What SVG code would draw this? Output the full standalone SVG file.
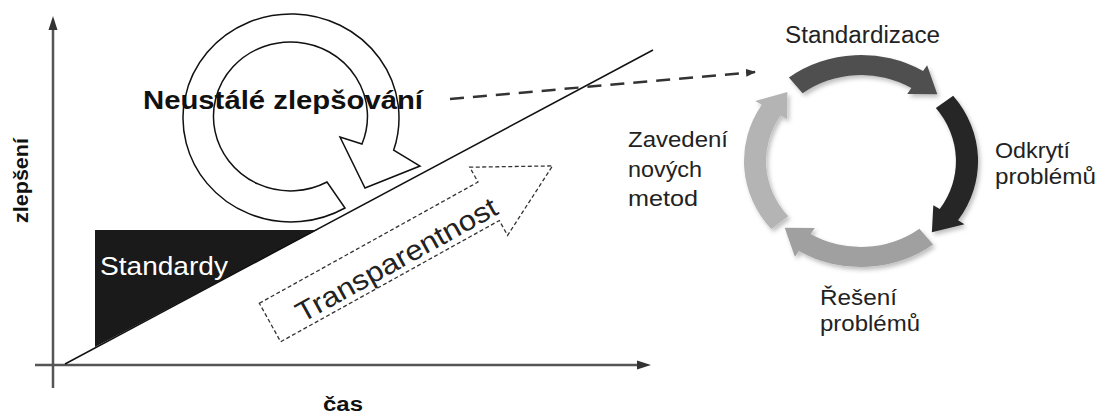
<svg xmlns="http://www.w3.org/2000/svg" width="1105" height="414" viewBox="0 0 1105 414">
<defs>
<style>
.ax{stroke:#555;stroke-width:2.5;fill:none}
.ln{stroke:#111;stroke-width:1.5;fill:none}
.q{stroke:#111;stroke-width:1.5;fill:none}
.tb{font-family:"Liberation Sans",Arial,sans-serif;font-weight:bold;fill:#111}
.t{font-family:"Liberation Sans",Arial,sans-serif;fill:#222}
.dash{stroke:#333;stroke-width:1.3;stroke-dasharray:4 2.5;fill:#fff}
</style>
<filter id="sh" x="-20%" y="-20%" width="140%" height="140%">
<feDropShadow dx="2" dy="3" stdDeviation="2" flood-color="#000" flood-opacity="0.25"/>
</filter>
<marker id="ah" markerWidth="10" markerHeight="10" refX="9" refY="5" orient="auto" markerUnits="userSpaceOnUse">
<path d="M0,1 L10,5 L0,9 Z" fill="#333"/>
</marker>
</defs>
<rect width="1105" height="414" fill="#fff"/>

<g id="axes">
<line class="ax" x1="53" y1="28" x2="53" y2="388"/>
<path d="M53,16 L57.5,30 L48.5,30 Z" fill="#333"/>
<line class="ax" x1="35" y1="365" x2="640" y2="365"/>
<path d="M651,365 L637,360.5 L637,369.5 Z" fill="#333"/>
<text class="tb" font-size="20" textLength="85" lengthAdjust="spacingAndGlyphs" transform="translate(28,223) rotate(-90)">zlepšení</text>
<text class="tb" font-size="20" x="323" y="411" textLength="40" lengthAdjust="spacingAndGlyphs">čas</text>
</g>

<g id="standardy">
<path d="M95,230 L317,230 L95,347 Z" fill="#1a1a1a"/>
<text x="100" y="275" font-size="26" textLength="128" lengthAdjust="spacingAndGlyphs" font-family="Liberation Sans, Arial, sans-serif" fill="#fff">Standardy</text>
</g>

<g id="diagonal">
<line class="ln" x1="65" y1="364" x2="653" y2="50"/>
</g>

<g id="transparentnost" transform="translate(270,322.5) rotate(-29)">
<path class="dash" d="M0,-22 L250,-22 L250,-39 L323,0 L250,39 L250,22 L0,22 Z"/>
<text class="t" x="28" y="16" font-size="28" textLength="226" lengthAdjust="spacingAndGlyphs" fill="#111">Transparentnost</text>
</g>

<g id="neustale">
<text class="tb" x="143" y="109" font-size="25" textLength="280" lengthAdjust="spacingAndGlyphs">Neustálé zlepšování</text>
<path class="q" d="M345,208 A108,104 0 1 1 393.7,150.1 L420,166 L365,188 L340,137 L362,144 A77,74.5 0 1 0 327,182 Z"/>
</g>

<g id="connectors">
<line x1="450" y1="99" x2="755" y2="72" stroke="#333" stroke-width="2.5" stroke-dasharray="14 9" marker-end="url(#ah)"/>
</g>

<g id="cycle" transform="translate(861,161) scale(1.104,1)" filter="url(#sh)">
<path id="arc-standardizace" fill="#4f4f4f" d="M-65.3,-83.5 A106,106 0 0 1 56.2,-89.9 L59.9,-95.8 L69.1,-66.7 L41.9,-67 L45.6,-72.9 A86,86 0 0 0 -52.9,-67.8 Z"/>
<path id="arc-odkryti" fill="#252525" d="M83.5,-65.3 A106,106 0 0 1 87.9,59.3 L93.7,63.2 L64.2,71.3 L65.5,44.2 L71.3,48.1 A86,86 0 0 0 67.8,-52.9 Z"/>
<path id="arc-reseni" fill="#a0a0a0" d="M65.3,83.5 A106,106 0 0 1 -56.2,89.9 L-59.9,95.8 L-69.1,66.7 L-41.9,67 L-45.6,72.9 A86,86 0 0 0 52.9,67.8 Z"/>
<path id="arc-zavedeni" fill="#b4b4b4" d="M-81.2,68.1 A106,106 0 0 1 -89.9,-56.2 L-95.8,-59.9 L-66.7,-69.1 L-67,-41.9 L-72.9,-45.6 A86,86 0 0 0 -65.9,55.3 Z"/>
</g>

<g id="label-standardizace"><text class="t" x="785" y="43" font-size="23" textLength="155" lengthAdjust="spacingAndGlyphs">Standardizace</text></g>
<g id="label-odkryti">
<text class="t" x="995" y="158" font-size="22" textLength="75" lengthAdjust="spacingAndGlyphs">Odkrytí</text>
<text class="t" x="995" y="184" font-size="22" textLength="101" lengthAdjust="spacingAndGlyphs">problémů</text>
</g>
<g id="label-reseni">
<text class="t" x="820" y="305" font-size="22" textLength="77" lengthAdjust="spacingAndGlyphs">Řešení</text>
<text class="t" x="820" y="331" font-size="22" textLength="100" lengthAdjust="spacingAndGlyphs">problémů</text>
</g>
<g id="label-zavedeni">
<text class="t" x="628" y="147" font-size="22" textLength="100" lengthAdjust="spacingAndGlyphs">Zavedení</text>
<text class="t" x="628" y="177" font-size="22" textLength="74" lengthAdjust="spacingAndGlyphs">nových</text>
<text class="t" x="628" y="206" font-size="22" textLength="70" lengthAdjust="spacingAndGlyphs">metod</text>
</g>
</svg>
